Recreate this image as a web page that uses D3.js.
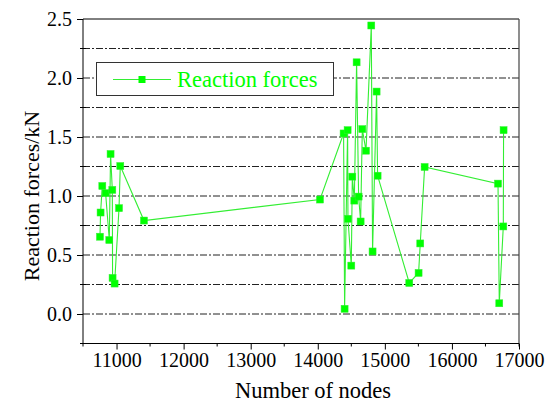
<!DOCTYPE html>
<html><head><meta charset="utf-8">
<script src="https://cdn.jsdelivr.net/npm/d3@7"></script>
<style>body{margin:0;background:#fff}svg{display:block}
svg text{font-family:'Liberation Serif','DejaVu Serif',serif;}</style>
</head><body><div id="chart"></div>
<script>
const nodes = [10753,10762,10788,10837,10892,10911,10937,10941,10971,11037,11056,11409,
  14033,14385,14400,14445,14450,14500,14515,14545,14579,14609,14639,14664,14719,14798,14817,14877,14892,
  15364,15503,15528,15593,16687,16706,16766,16770];
const forces = [0.655,0.86,1.085,1.024,0.627,1.356,1.052,0.306,0.258,0.897,1.254,0.792,
  0.970,1.530,0.044,1.558,0.807,0.410,1.164,0.961,2.133,0.995,0.784,1.567,1.384,2.445,0.530,1.885,1.172,
  0.263,0.348,0.598,1.246,1.105,0.091,0.742,1.558];
const xTicks = [11000,12000,13000,14000,15000,16000,17000];
const yTicks = [0.0,0.5,1.0,1.5,2.0,2.5];
const gridVals = [0,0.25,0.5,0.75,1.0,1.25,1.5,1.75,2.0,2.25];
const seriesName = "Reaction forces";

const W=550,H=406;
const svg=d3.select("#chart").append("svg").attr("width",W).attr("height",H);
const x=d3.scaleLinear().domain([10500,17000]).range([83,519]);
const y=d3.scaleLinear().domain([-0.25,2.5]).range([343.5,19]);
const font="'Liberation Serif','DejaVu Serif',serif";
const green="#00ff00";

// gridlines
svg.append("g").selectAll("line").data(gridVals).join("line")
  .attr("x1",x.range()[0]).attr("x2",x.range()[1])
  .attr("y1",d=>y(d)).attr("y2",d=>y(d))
  .attr("stroke","#222").attr("stroke-width",1).attr("stroke-dasharray","7,2,2,2");

// frame
svg.append("line").attr("x1",83).attr("x2",519).attr("y1",y(2.5)).attr("y2",y(2.5)).attr("stroke","#000");
svg.append("line").attr("x1",519).attr("x2",519).attr("y1",y(2.5)).attr("y2",y(-0.25)+3).attr("stroke","#444").attr("stroke-width",1.2);

// axes
const xAxis=d3.axisBottom(x).tickValues(xTicks).tickFormat(d3.format("d")).tickSize(6).tickPadding(3);
const gx=svg.append("g").attr("transform",`translate(0,${y(-0.25)})`).call(xAxis);
gx.attr("font-family",null).attr("font-size",null);
gx.select(".domain").attr("d",`M${x.range()[0]},0H${x.range()[1]}`);
gx.selectAll(".minor").data(d3.range(10500,17000,1000)).join("line").attr("class","minor")
  .attr("x1",d=>x(d)).attr("x2",d=>x(d)).attr("y1",0).attr("y2",3).attr("stroke","#000");
gx.selectAll("text").style("font-family",font).style("font-size","20px").attr("fill","#000");

const yAxis=d3.axisLeft(y).tickValues(yTicks).tickFormat(d3.format(".1f")).tickSize(6).tickPadding(5);
const gy=svg.append("g").attr("transform",`translate(83,0)`).call(yAxis);
gy.attr("font-family",null).attr("font-size",null);
gy.select(".domain").attr("d",`M0,${y.range()[0]}V${y.range()[1]}`);
gy.selectAll(".minor").data([-0.25,0.25,0.75,1.25,1.75,2.25]).join("line").attr("class","minor")
  .attr("x1",-3).attr("x2",3).attr("y1",d=>y(d)).attr("y2",d=>y(d)).attr("stroke","#000");
gy.selectAll("text").style("font-family",font).style("font-size","20px").attr("fill","#000");

// titles
svg.append("text").attr("x",313).attr("y",398).attr("text-anchor","middle")
  .style("font-family",font).style("font-size","22.5px").text("Number of nodes");
svg.append("text").attr("transform",`translate(39,${y(1.0)}) rotate(-90)`).attr("text-anchor","middle")
  .style("font-family",font).style("font-size","22px").text("Reaction forces/kN");

// data line & markers
const pts=nodes.map((n,i)=>({n,f:forces[i]}));
svg.append("path").datum(pts).attr("fill","none").attr("stroke","#33ee33").attr("stroke-width",1.1)
  .attr("d",d3.line().x(d=>x(d.n)).y(d=>y(d.f)));
svg.append("g").selectAll("rect").data(pts).join("rect")
  .attr("x",d=>x(d.n)-3.5).attr("y",d=>y(d.f)-3.5).attr("width",7).attr("height",7)
  .attr("fill",green).attr("stroke","#33ee33").attr("stroke-width",0.5);

// legend
const lg=svg.append("g");
lg.append("rect").attr("x",96.5).attr("y",62.5).attr("width",237).attr("height",33)
  .attr("fill","#fff").attr("stroke","#333").attr("stroke-width",1);
lg.append("line").attr("x1",113).attr("x2",171).attr("y1",79.5).attr("y2",79.5).attr("stroke","#33ee33").attr("stroke-width",1.1);
lg.append("rect").attr("x",138.5).attr("y",76).attr("width",7).attr("height",7).attr("fill",green);
lg.append("text").attr("x",177).attr("y",87).style("font-family",font).style("font-size","22.5px")
  .attr("fill",green).text(seriesName);
</script></body></html>
